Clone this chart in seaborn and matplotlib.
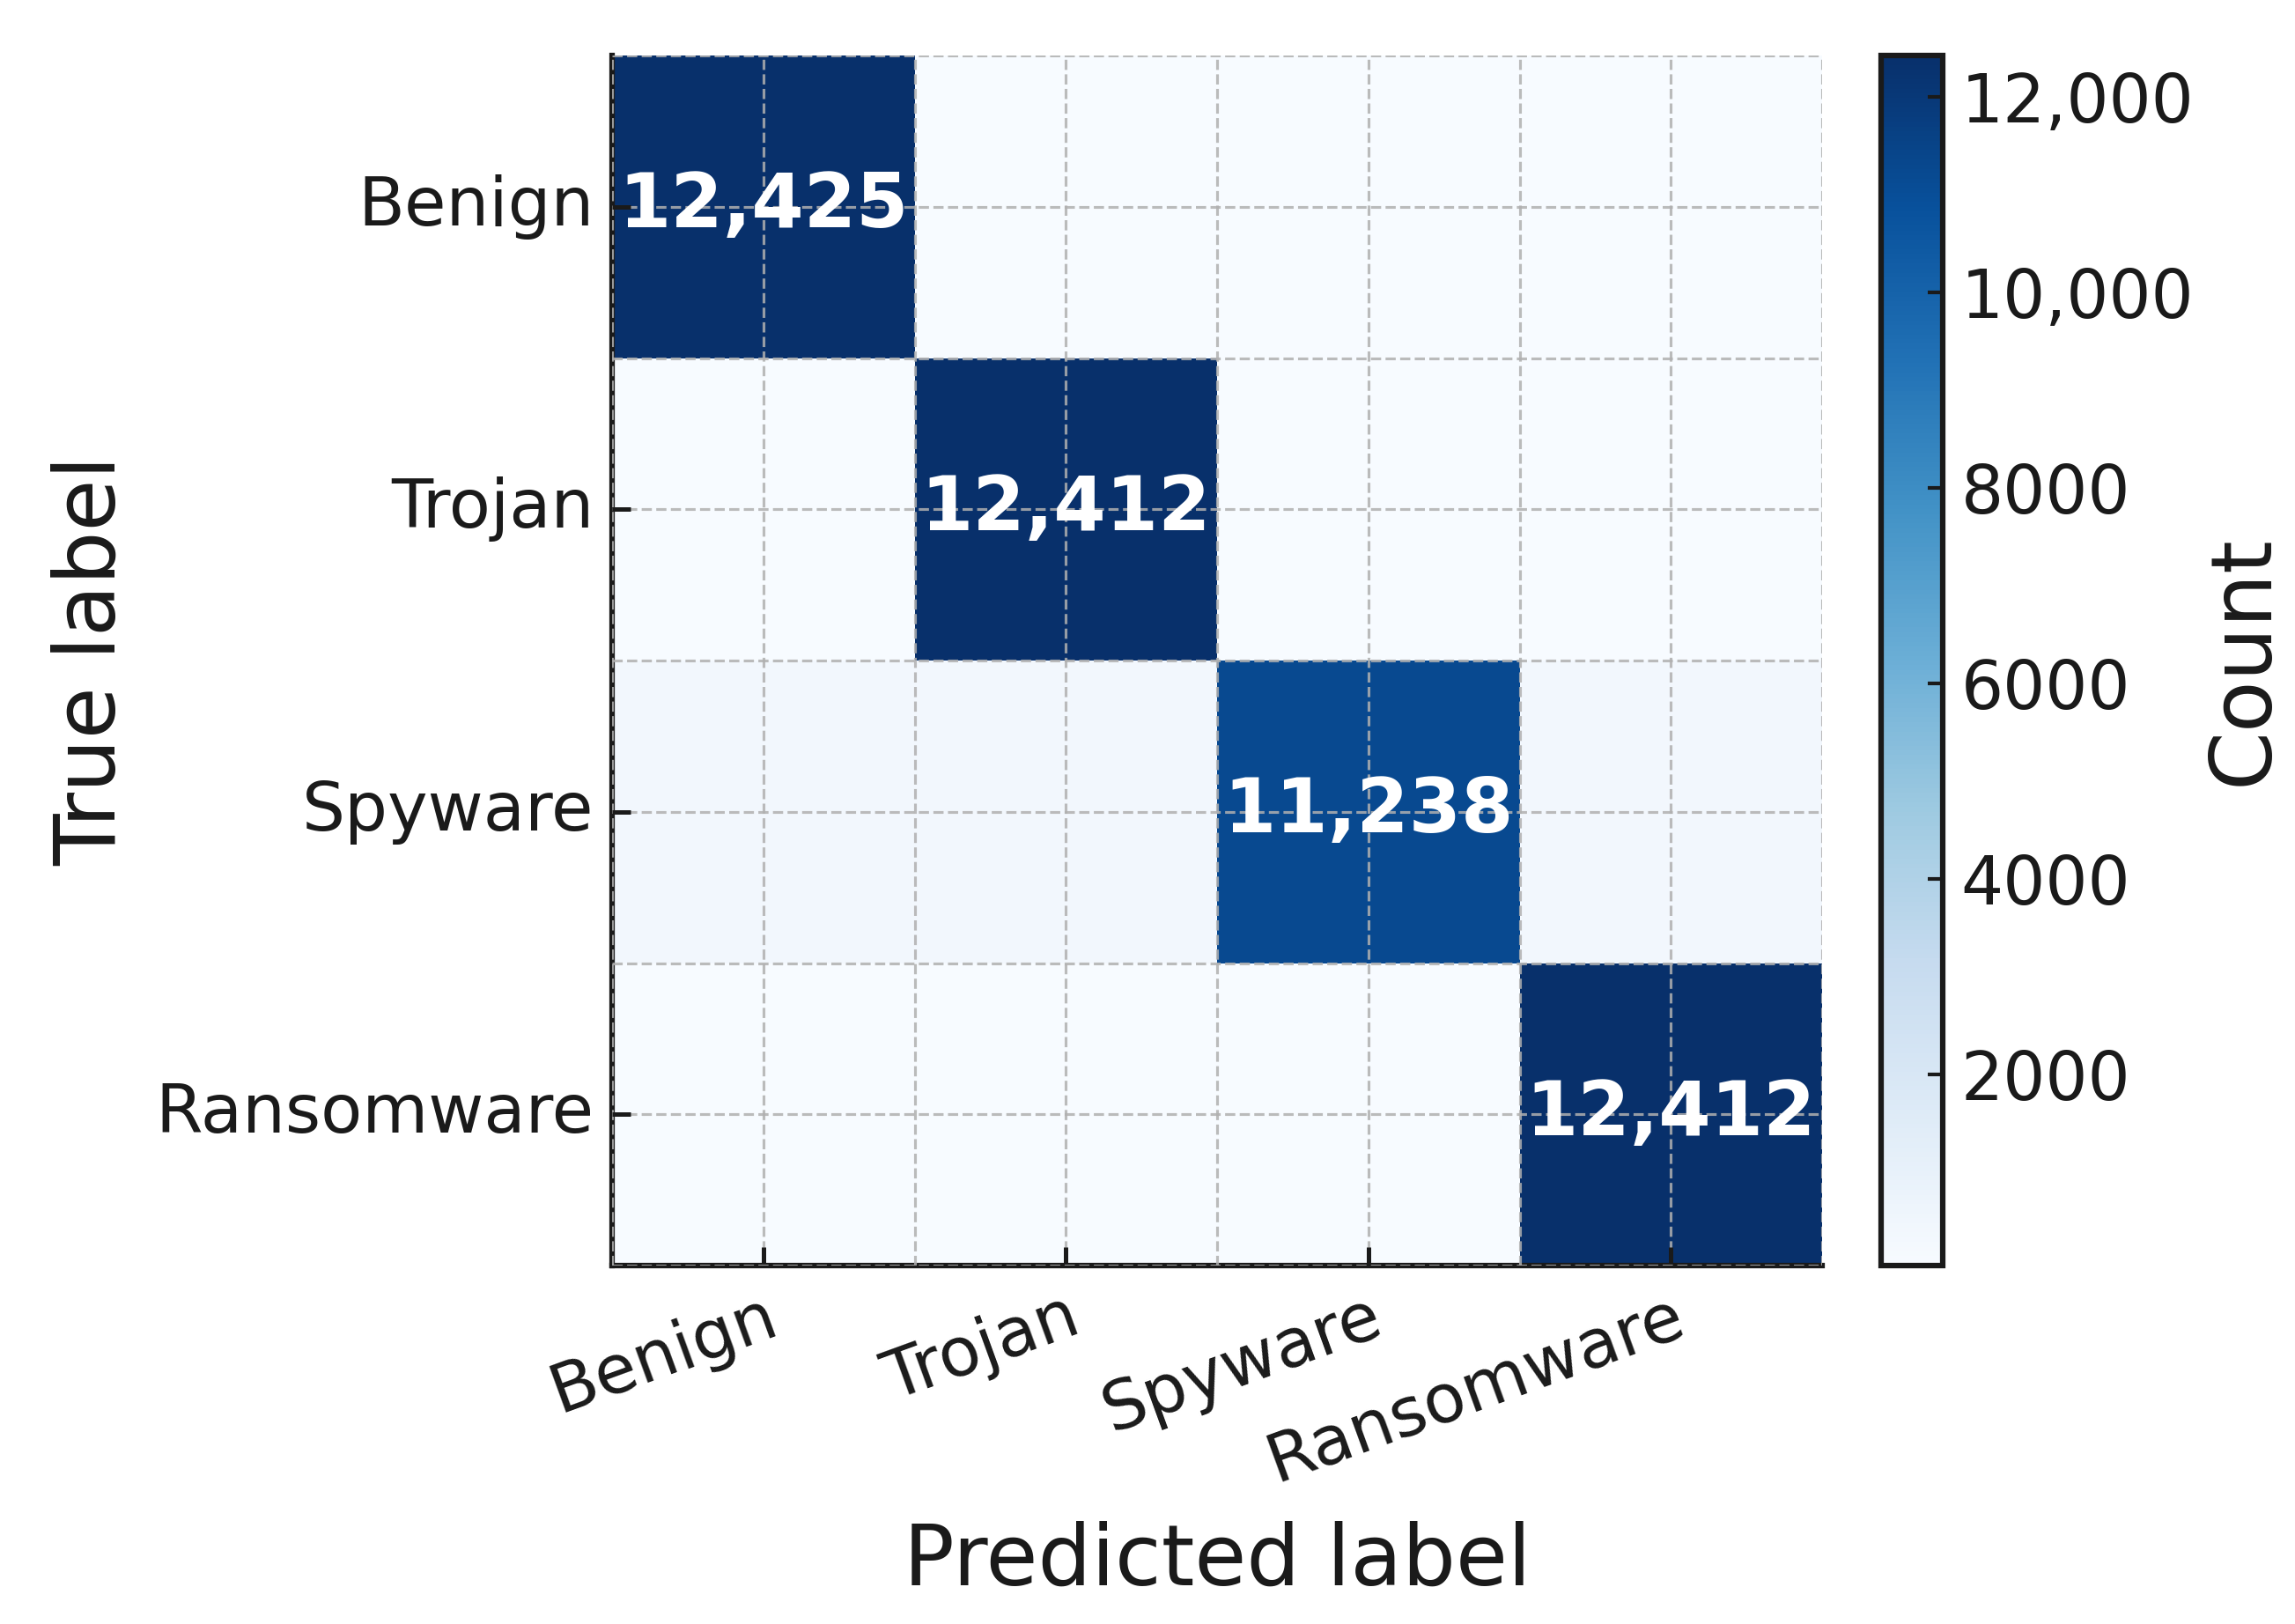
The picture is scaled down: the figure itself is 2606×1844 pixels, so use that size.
import numpy as np
import pandas as pd
import matplotlib
matplotlib.use("Agg")
import matplotlib.pyplot as plt
from matplotlib.ticker import FuncFormatter
import seaborn as sns

# Class names and confusion-matrix counts (rows = true, cols = predicted)
CLASSES = ["Benign", "Trojan", "Spyware", "Ransomware"]
ROW_BENIGN = [12425, 58, 47, 62]
ROW_TROJAN = [44, 12412, 53, 83]
ROW_SPYWARE = [402, 389, 11238, 408]
ROW_RANSOMWARE = [51, 66, 49, 12412]
CBAR_TICKS = [2000, 4000, 6000, 8000, 10000, 12000]

TEXT_COLOR = "#1a1a1a"


def build_matrix():
    """Stack the rows into a labelled DataFrame."""
    cm = np.array([ROW_BENIGN, ROW_TROJAN, ROW_SPYWARE, ROW_RANSOMWARE])
    return pd.DataFrame(cm, index=CLASSES, columns=CLASSES)


def plot_confusion(df):
    plt.rcParams["font.family"] = ["DejaVu Sans"]
    plt.rcParams["text.color"] = TEXT_COLOR
    plt.rcParams["axes.labelcolor"] = TEXT_COLOR
    plt.rcParams["xtick.color"] = TEXT_COLOR
    plt.rcParams["ytick.color"] = TEXT_COLOR

    fig = plt.figure(figsize=(2606 / 300, 1844 / 300), dpi=300)
    ax = fig.add_axes([0.2667, 0.2207, 0.5273, 0.7451])
    cax = fig.add_axes([0.8196, 0.2207, 0.0269, 0.7451])

    # Only the diagonal gets a number
    values = df.values
    annot = np.where(np.eye(len(CLASSES), dtype=bool),
                     np.vectorize(lambda v: f"{v:,}")(values), "")

    sns.heatmap(df, ax=ax, cbar_ax=cax, cmap="Blues",
                annot=annot, fmt="",
                annot_kws={"fontsize": 20.5, "fontweight": "bold", "color": "white"})

    # Spines: left and bottom only
    for side in ["left", "bottom"]:
        ax.spines[side].set_visible(True)
        ax.spines[side].set_linewidth(1.5)
        ax.spines[side].set_color(TEXT_COLOR)
    for side in ["top", "right"]:
        ax.spines[side].set_visible(False)

    # Dashed grid on cell centres and cell borders
    ax.set_xticks(np.arange(len(CLASSES) + 1), minor=True)
    ax.set_yticks(np.arange(len(CLASSES) + 1), minor=True)
    ax.grid(True, which="both", linestyle="--", color="#b0b0b0",
            linewidth=0.75, alpha=0.85)
    ax.set_axisbelow(False)

    ax.tick_params(which="major", direction="in", length=5, width=1.2,
                   labelsize=18.5, pad=5, left=True, bottom=True)
    ax.tick_params(which="minor", length=0)
    ax.set_xticklabels(CLASSES, rotation=20, ha="right", rotation_mode="anchor")
    ax.set_yticklabels(CLASSES, rotation=0)

    ax.set_xlabel("Predicted label", fontsize=23, labelpad=7)
    ax.set_ylabel("True label", fontsize=23, labelpad=6)

    # Colorbar styling
    cbar = ax.collections[0].colorbar
    cbar.outline.set_linewidth(1.5)
    cbar.outline.set_edgecolor(TEXT_COLOR)
    cbar.set_ticks(CBAR_TICKS)
    cbar.ax.yaxis.set_major_formatter(
        FuncFormatter(lambda x, _: f"{x:,.0f}" if x >= 10000 else f"{x:.0f}"))
    cbar.ax.tick_params(direction="in", length=4, width=1.0, labelsize=18.2,
                        pad=5)
    cbar.set_label("Count", fontsize=23, labelpad=2.5)

    fig.savefig("out.png", dpi=300)
    plt.close(fig)


if __name__ == "__main__":
    df = build_matrix()
    plot_confusion(df)
